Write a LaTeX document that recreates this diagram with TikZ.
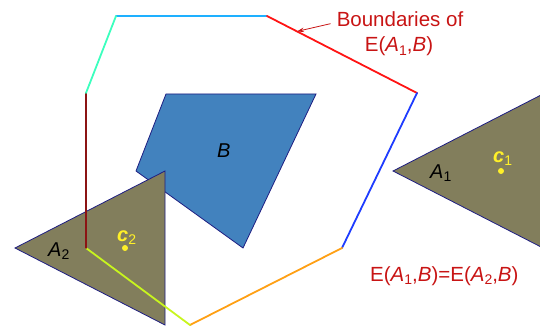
\documentclass[tikz,border=0pt]{standalone}
\usepackage{fontspec}
\setmainfont{Liberation Sans}
\usetikzlibrary{positioning, calc, arrows.meta}

\definecolor{blockblue}{RGB}{66,130,190}
\definecolor{edgenavy}{RGB}{30,30,130}
\definecolor{olivefill}{RGB}{130,126,92}
\definecolor{notered}{RGB}{200,20,20}
\definecolor{centyellow}{RGB}{255,240,40}
\newcommand{\lowsub}[1]{\raisebox{-0.3ex}{\fontsize{14}{14}\selectfont\upshape\mdseries #1}}

\begin{document}
\begin{tikzpicture}[x=1pt, y=-1pt,
            obj/.style={draw=edgenavy, line width=0.8pt, line join=miter},
            blk/.style={obj, fill=blockblue},
            tri/.style={obj, fill=olivefill},
            bnd/.style={line width=1.8pt, line cap=round},
            lab/.style={anchor=base west, inner sep=0pt, font=\fontsize{20}{22}\selectfont\itshape},
            centlab/.style={lab, text=centyellow, font=\fontsize{20}{22}\selectfont\bfseries\itshape},
            cent/.style={circle, fill=centyellow, inner sep=0pt, minimum size=6pt},
            note/.style={anchor=base, inner sep=0pt, text=notered, font=\fontsize{20.5}{22}\selectfont}
        ]
            \useasboundingbox (0,0) rectangle (540,326);

            % obstacle B and the two copies of A
            \draw[blk] (166,94) -- (316,94) -- (243,248) -- (136,171) -- cycle;
            \draw[tri] (15,248) -- (165,171) -- (165,325) -- cycle;
            \draw[tri] (393,171) -- (543,94) -- (543,248) -- cycle;

            % boundaries of E(A1,B)
            \coordinate (p1) at (116,16);
            \coordinate (p2) at (267,16);
            \coordinate (p3) at (417,93);
            \coordinate (p4) at (342,248);
            \coordinate (p5) at (190,325);
            \coordinate (p6) at (86,248);
            \coordinate (p7) at (86,93);
            \draw[bnd, color={rgb,255:red,30;green,176;blue,255}] (p1) -- (p2);
            \draw[bnd, color={rgb,255:red,255;green,20;blue,20}] (p2) -- (p3);
            \draw[bnd, color={rgb,255:red,30;green,60;blue,255}] (p3) -- (p4);
            \draw[bnd, color={rgb,255:red,255;green,160;blue,20}] (p4) -- (p5);
            \draw[bnd, color={rgb,255:red,200;green,245;blue,30}] (p5) -- (p6);
            \draw[bnd, color={rgb,255:red,140;green,20;blue,20}] (p6) -- (p7);
            \draw[bnd, color={rgb,255:red,60;green,255;blue,190}] (p7) -- (p1);

            \node[cent] (c1) at (501,171) {};
            \node[cent] (c2) at (125,248) {};

            \node[lab] (B) at (217,157) {B};
            \node[lab] (A1) at (430,178) {A\lowsub{1}};
            \node[lab] (A2) at (48,256) {A\lowsub{2}};
            \node[centlab] (c1lab) at (493,162) {c\lowsub{1}};
            \node[centlab] (c2lab) at (117,241) {c\lowsub{2}};

            \node[note] (bndtext) at (400,27) {Boundaries of};
            \node[note] (bndname) at (399,52) {E(\textit{A}\lowsub{1},\textit{B})};
            \node[note, anchor=base west] (equal) at (370,281) {E(\textit{A}\lowsub{1},\textit{B})=E(\textit{A}\lowsub{2},\textit{B})};

            \coordinate (bndpt) at ($(p2)!0.2!(p3)$);
            \draw[-{Stealth[length=7pt, width=4.5pt]}, notered, line width=0.8pt] ([xshift=-6pt, yshift=-4pt]bndtext.west) -- (bndpt);
        \end{tikzpicture}
\end{document}
